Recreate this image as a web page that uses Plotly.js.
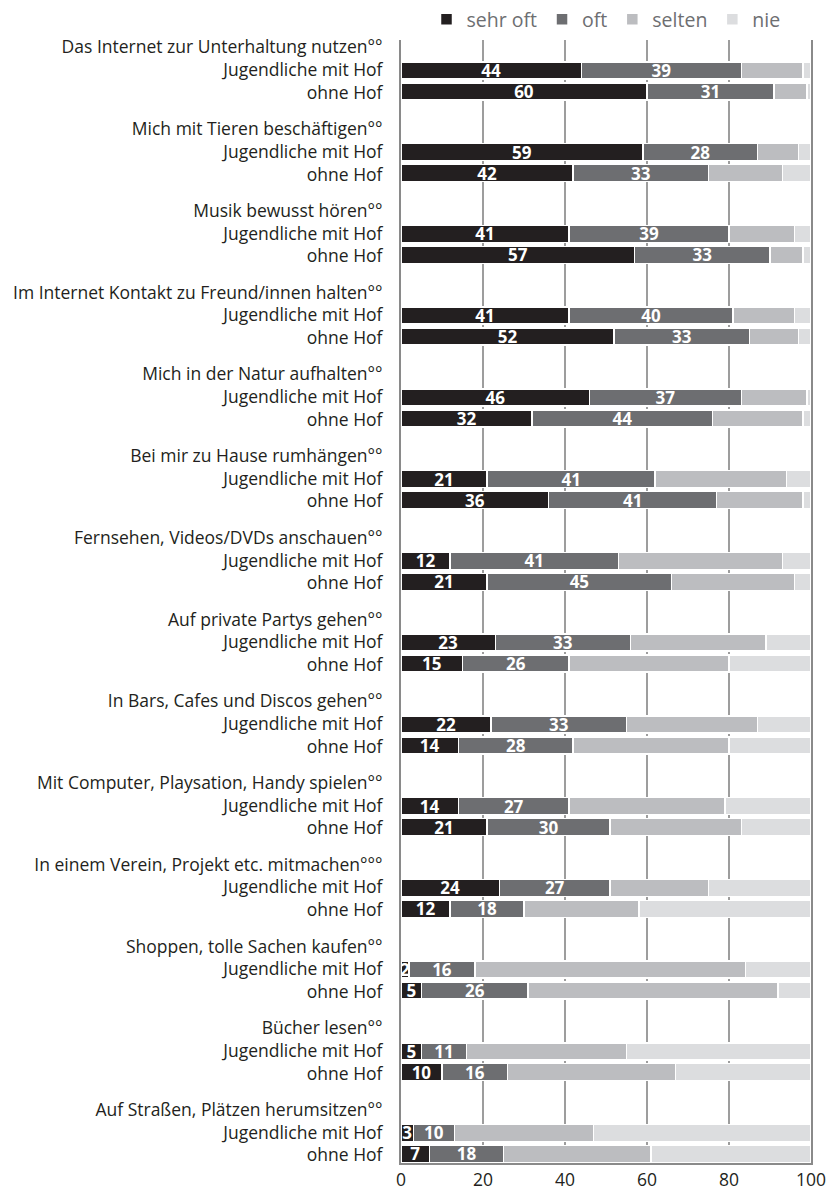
<!DOCTYPE html>
<html>
<head>
<meta charset="utf-8">
<script src="https://cdn.plot.ly/plotly-3.0.1.min.js"></script>
<style>html,body{margin:0;padding:0;background:#fff;}#chart{width:831px;height:1198px;}</style>
</head>
<body>
<div id="chart"></div>
<script>
const groups = [
  "Das Internet zur Unterhaltung nutzen°°",
  "Mich mit Tieren beschäftigen°°",
  "Musik bewusst hören°°",
  "Im Internet Kontakt zu Freund/innen halten°°",
  "Mich in der Natur aufhalten°°",
  "Bei mir zu Hause rumhängen°°",
  "Fernsehen, Videos/DVDs anschauen°°",
  "Auf private Partys gehen°°",
  "In Bars, Cafes und Discos gehen°°",
  "Mit Computer, Playsation, Handy spielen°°",
  "In einem Verein, Projekt etc. mitmachen°°°",
  "Shoppen, tolle Sachen kaufen°°",
  "Bücher lesen°°",
  "Auf Straßen, Plätzen herumsitzen°°"
];
const rowLabels = ["Jugendliche mit Hof", "ohne Hof"];
const seriesNames = ["sehr oft", "oft", "selten", "nie"];

const sehrOftMit = [44,59,41,41,46,21,12,23,22,14,24,2,5,3];
const oftMit     = [39,28,39,40,37,41,41,33,33,27,27,16,11,10];
const seltenMit  = [15,10,16,15,16,32,40,33,32,38,24,66,39,34];
const nieMit     = [2,3,4,4,1,6,7,11,13,21,25,16,45,53];

const sehrOftOhne = [60,42,57,52,32,36,21,15,14,21,12,5,10,7];
const oftOhne     = [31,33,33,33,44,41,45,26,28,30,18,26,16,18];
const seltenOhne  = [8,18,8,12,22,21,30,39,38,32,28,61,41,36];
const nieOhne     = [1,7,2,3,2,2,4,20,20,17,42,8,33,39];

const xTicks = [0,20,40,60,80,100];

const colors = ["#231f20", "#6d6e71", "#bcbdc0", "#dcdddf"];
const mitData = [sehrOftMit, oftMit, seltenMit, nieMit];
const ohneData = [sehrOftOhne, oftOhne, seltenOhne, nieOhne];

const P = 3.895;
const yPos = [];
groups.forEach((g, i) => { yPos.push(i * P); yPos.push(i * P + 1); });

const traces = seriesNames.map((name, s) => {
  const xs = [];
  groups.forEach((g, i) => { xs.push(mitData[s][i]); xs.push(ohneData[s][i]); });
  const showText = s < 2;
  return {
    type: "bar",
    orientation: "h",
    name: name,
    x: xs,
    y: yPos,
    width: 0.81,
    marker: { color: colors[s], line: { color: "#ffffff", width: 1.5 } },
    text: showText ? xs.map(v => String(v)) : undefined,
    textposition: showText ? "inside" : "none",
    insidetextanchor: "middle",
    textangle: 0,
    constraintext: "none",
    textfont: { family: "Open Sans, sans-serif", size: 17, color: "#ffffff", weight: 700 },
    hoverinfo: "x+name",
    cliponaxis: true
  };
});

const tickvals = [];
const ticktext = [];
groups.forEach((g, i) => {
  tickvals.push(i * P - 1.1); ticktext.push(g);
  tickvals.push(i * P - 0.02); ticktext.push(rowLabels[0]);
  tickvals.push(i * P + 1.06); ticktext.push(rowLabels[1]);
});

const lastY = (groups.length - 1) * P + 1;

const layout = {
  width: 831,
  height: 1198,
  margin: { l: 401, r: 20, t: 40, b: 35, autoexpand: false },
  paper_bgcolor: "#ffffff",
  plot_bgcolor: "#ffffff",
  barmode: "stack",
  bargap: 0,
  font: { family: "Open Sans, sans-serif", size: 17, color: "#231f20" },
  showlegend: true,
  legend: {
    orientation: "h",
    x: 0.5, xanchor: "center",
    y: 1 + 40 / 1123, yanchor: "top",
    font: { size: 19.5, color: "#6d6e71" },
    traceorder: "normal",
    itemclick: false,
    itemwidth: 30
  },
  xaxis: {
    range: [0, 100],
    tickvals: xTicks,
    ticktext: xTicks.map(String),
    showgrid: true,
    gridcolor: "#9d9d9d",
    gridwidth: 1.5,
    zeroline: false,
    showline: true,
    linecolor: "#8a8a8a",
    linewidth: 2,
    ticks: "",
    ticklabelstandoff: 0,
    tickfont: { size: 17.5, color: "#231f20" },
    fixedrange: true
  },
  yaxis: {
    range: [lastY + 0.43, -1.45],
    tickvals: tickvals,
    ticktext: ticktext,
    showgrid: false,
    zeroline: false,
    showline: true,
    mirror: true,
    linecolor: "#8a8a8a",
    linewidth: 2,
    ticks: "",
    ticklabelstandoff: 13,
    tickfont: { size: 17.5, color: "#231f20" },
    fixedrange: true
  }
};

Plotly.newPlot("chart", traces, layout, { displayModeBar: false, staticPlot: true });
</script>
</body>
</html>
